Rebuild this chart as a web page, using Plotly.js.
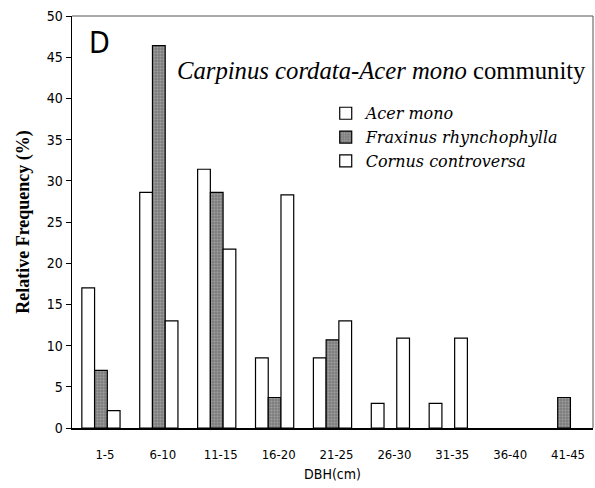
<!DOCTYPE html>
<html>
<head>
<meta charset="utf-8">
<script src="https://cdn.plot.ly/plotly-3.0.1.min.js"></script>
<style>html,body{margin:0;padding:0;background:#fff;}#chart{width:595px;height:488px;}</style>
</head>
<body>
<div id="chart"></div>
<script>
const categories = ["1-5","6-10","11-15","16-20","21-25","26-30","31-35","36-40","41-45"];
const acerMono = [17.0, 28.6, 31.4, 8.5, 8.5, 3.0, 3.0, 0, 0];
const fraxinus = [7.0, 46.4, 28.6, 3.7, 10.7, 0, 0, 0, 3.7];
const cornus = [2.1, 13.0, 21.7, 28.3, 13.0, 10.9, 10.9, 0, 0];
const seriesNames = ["Acer mono", "Fraxinus rhynchophylla", "Cornus controversa"];
const yTicks = [0,5,10,15,20,25,30,35,40,45,50];

const serif = "Liberation Serif, Times New Roman, serif";
const tickFamily = "DejaVu Sans Condensed, DejaVu Sans, sans-serif";
const outline = vals => vals.map(v => v > 0 ? 1.2 : 0);

const traces = [
  {type: "bar", name: seriesNames[0], x: categories, y: acerMono,
   marker: {color: "#ffffff", line: {color: "#000", width: outline(acerMono)}}},
  {type: "bar", name: seriesNames[1], x: categories, y: fraxinus,
   marker: {color: "#8a8a8a", line: {color: "#000", width: outline(fraxinus)},
            pattern: {shape: ".", bgcolor: "#7d7d7d", fgcolor: "#c4c4c4", size: 3, solidity: 0.35, fillmode: "overlay"}}},
  {type: "bar", name: seriesNames[2], x: categories, y: cornus,
   marker: {color: "#ffffff", line: {color: "#000", width: outline(cornus)}}}
];

const layout = {
  width: 595, height: 488,
  margin: {l: 72, r: 2, t: 16, b: 60},
  paper_bgcolor: "#fff", plot_bgcolor: "#fff",
  barmode: "group", bargap: 0.34, bargroupgap: 0,
  showlegend: true,
  legend: {x: 0.487, y: 0.805, xanchor: "left", yanchor: "top", bgcolor: "rgba(0,0,0,0)",
           font: {family: "DejaVu Serif, serif", size: 16, color: "#000", style: "italic"},
           tracegroupgap: 0, itemwidth: 30},
  xaxis: {type: "category", showline: true, linecolor: "#000", linewidth: 1.5,
          ticks: "", showgrid: false, zeroline: false,
          tickfont: {family: tickFamily, size: 13, color: "#000"},
          ticklabelstandoff: 14, ticklabelshift: 4,
          title: {text: "DBH(cm)", font: {family: tickFamily, size: 14, color: "#000"}, standoff: 8}},
  yaxis: {range: [0, 50], tickvals: yTicks, ticktext: yTicks.map(String),
          showline: true, linecolor: "#000", linewidth: 1.5,
          ticks: "outside", ticklen: 5, tickcolor: "#000", tickwidth: 1,
          showgrid: false, zeroline: false,
          tickfont: {family: tickFamily, size: 14, color: "#000"},
          title: {text: "<b>Relative Frequency (%)</b>", font: {family: serif, size: 18, color: "#000"}, standoff: 12}},
  shapes: [
    {type: "line", xref: "paper", yref: "paper", x0: 0, x1: 1, y0: 1, y1: 1, line: {color: "#555", width: 1}},
    {type: "line", xref: "paper", yref: "paper", x0: 1, x1: 1, y0: 0, y1: 1, line: {color: "#555", width: 1}}
  ],
  annotations: [
    {text: "D", xref: "paper", yref: "paper", x: 0.028, y: 0.983, xanchor: "left", yanchor: "top", showarrow: false,
     font: {family: tickFamily, size: 30, color: "#000"}},
    {text: "<i>Carpinus cordata-Acer mono</i> community", xref: "paper", yref: "paper", x: 0.198, y: 0.868,
     xanchor: "left", yanchor: "middle", showarrow: false,
     font: {family: serif, size: 24.7, color: "#000"}}
  ]
};

Plotly.newPlot("chart", traces, layout, {displayModeBar: false, staticPlot: true});
</script>
</body>
</html>
